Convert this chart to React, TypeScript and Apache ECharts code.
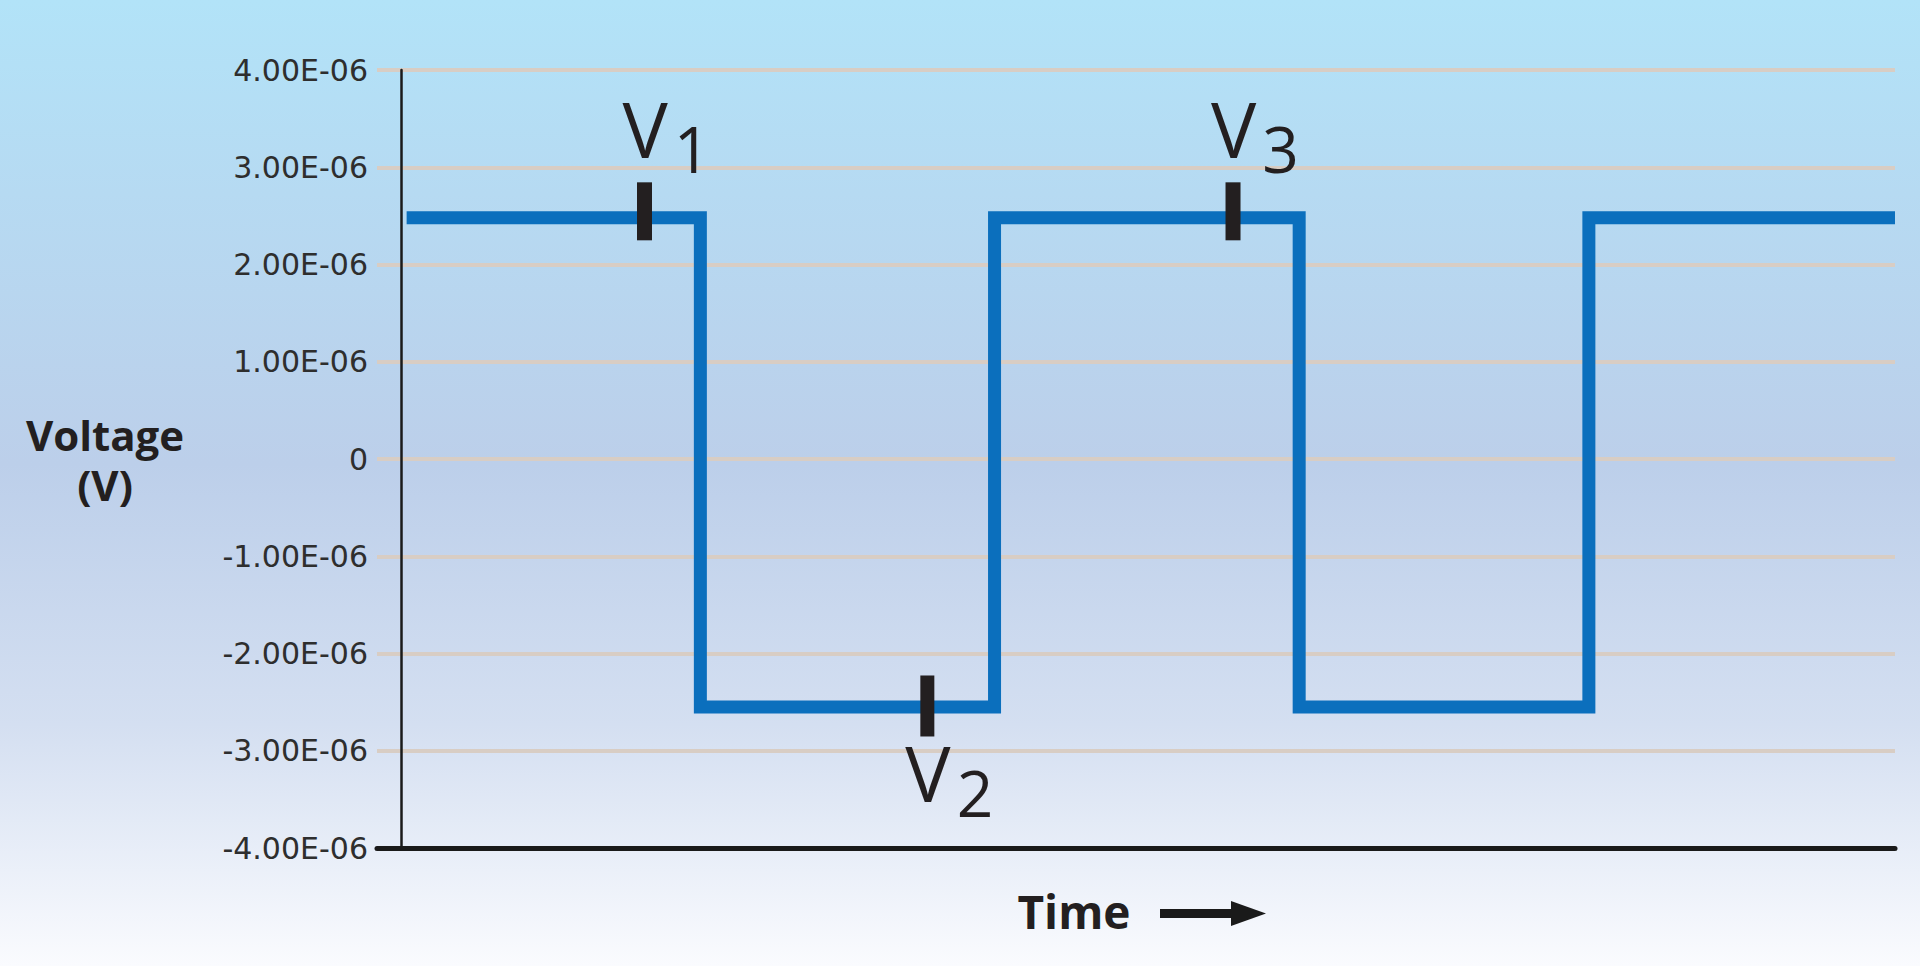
import React, { useEffect, useRef } from "react";
import * as echarts from "echarts";

// ---- data ----
const yTickValues = [-4e-6, -3e-6, -2e-6, -1e-6, 0, 1e-6, 2e-6, 3e-6, 4e-6];
const yTickLabels = ["-4.00E-06", "-3.00E-06", "-2.00E-06", "-1.00E-06", "0", "1.00E-06", "2.00E-06", "3.00E-06", "4.00E-06"];

// square-wave corners (time in arbitrary units, voltage in V)
const signalTime = [0.33, 20.0, 20.0, 39.7, 39.7, 60.1, 60.1, 79.5, 79.5, 100];
const signalVoltage = [2.48e-6, 2.48e-6, -2.55e-6, -2.55e-6, 2.48e-6, 2.48e-6, -2.55e-6, -2.55e-6, 2.48e-6, 2.48e-6];

// sampling markers V1, V2, V3
const sampleNames = ["1", "2", "3"];
const sampleTime = [16.26, 35.2, 55.67];
const sampleVoltage = [2.48e-6, -2.55e-6, 2.48e-6];
const sampleAbove = [true, false, true];

const yAxisTitle = "Voltage\n(V)";
const xAxisTitle = "Time";

export default function App() {
  const ref = useRef<HTMLDivElement>(null);

  useEffect(() => {
    if (!ref.current) return;
    const chart = echarts.init(ref.current, undefined, { renderer: "svg" });

    const textColor = "#231f20";

    const lineData = signalTime.map((t, i) => [t, signalVoltage[i]]);
    const markerData = sampleTime.map((t, i) => {
      const above = sampleAbove[i];
      return {
        value: [t, sampleVoltage[i]],
        symbolSize: above ? [15, 58] : [14, 61],
        symbolOffset: above ? [0, -6.5] : [0, -1],
        label: {
          show: true,
          position: above ? "top" : "bottom",
          distance: 0,
          align: "left",
          offset: above ? [-22, -14] : [-22, -4],
          formatter: "{v|V}{s|" + sampleNames[i] + "}",
        },
      };
    });

    chart.setOption({
      animation: false,
      backgroundColor: {
        type: "linear",
        x: 0,
        y: 0,
        x2: 0,
        y2: 1,
        colorStops: [
          { offset: 0, color: "#b2e3f8" },
          { offset: 0.2, color: "#b6daf2" },
          { offset: 0.48, color: "#bccfea" },
          { offset: 0.75, color: "#d4dff1" },
          { offset: 1, color: "#fafbfe" },
        ],
      },
      grid: { left: 377, right: 25, top: 70, bottom: 118, containLabel: false },
      xAxis: {
        type: "value",
        min: -1.654,
        max: 100,
        name: xAxisTitle,
        nameLocation: "middle",
        nameGap: 40,
        nameTextStyle: {
          fontFamily: "Open Sans",
          fontWeight: "bold",
          fontSize: 46,
          color: textColor,
          padding: [0, 124, 0, 0],
        },
        axisLine: { show: true, onZero: false, lineStyle: { color: "#1a1a1a", width: 5 } },
        axisTick: { show: false },
        axisLabel: { show: false },
        splitLine: { show: false },
      },
      yAxis: {
        type: "value",
        min: -4e-6,
        max: 4e-6,
        interval: 1e-6,
        name: yAxisTitle,
        nameLocation: "middle",
        nameRotate: 0,
        nameGap: 272,
        nameTextStyle: {
          fontFamily: "Open Sans",
          fontWeight: "bold",
          fontSize: 42,
          lineHeight: 50,
          color: textColor,
          align: "center",
        },
        axisLine: { show: true, onZero: true, lineStyle: { color: "#1a1a1a", width: 2.5 } },
        axisTick: { show: false },
        axisLabel: {
          margin: 9,
          fontFamily: "DejaVu Sans",
          fontSize: 30,
          color: "#2e2e2e",
          formatter: (v: number) => {
            const idx = yTickValues.findIndex((t) => Math.abs(t - v) < 1e-9);
            return idx >= 0 ? yTickLabels[idx] : "";
          },
        },
        splitLine: { show: true, lineStyle: { color: "#d8cdc4", width: 4 } },
      },
      series: [
        {
          type: "line",
          data: lineData,
          showSymbol: false,
          symbol: "none",
          z: 2,
          lineStyle: { color: "#0b6fbd", width: 13, join: "miter", cap: "butt" },
        },
        {
          type: "scatter",
          data: markerData,
          symbol: "rect",
          z: 3,
          itemStyle: { color: textColor, opacity: 1 },
          label: {
            color: textColor,
            rich: {
              v: { fontFamily: "Open Sans", fontSize: 76, lineHeight: 80, color: textColor },
              s: { fontFamily: "Open Sans", fontSize: 64, lineHeight: 80, color: textColor, padding: [40, 0, 0, 6] },
            },
          },
        },
      ],
      graphic: [
        {
          type: "group",
          children: [
            { type: "rect", shape: { x: 1160, y: 909, width: 74, height: 9 }, style: { fill: "#1a1a1a" } },
            {
              type: "polygon",
              shape: { points: [[1231, 901], [1266, 913.5], [1231, 926]] },
              style: { fill: "#1a1a1a" },
            },
          ],
        },
      ],
    });

    return () => chart.dispose();
  }, []);

  return <div ref={ref} style={{ position: "fixed", left: 0, top: 0, width: 1920, height: 966 }} />;
}
